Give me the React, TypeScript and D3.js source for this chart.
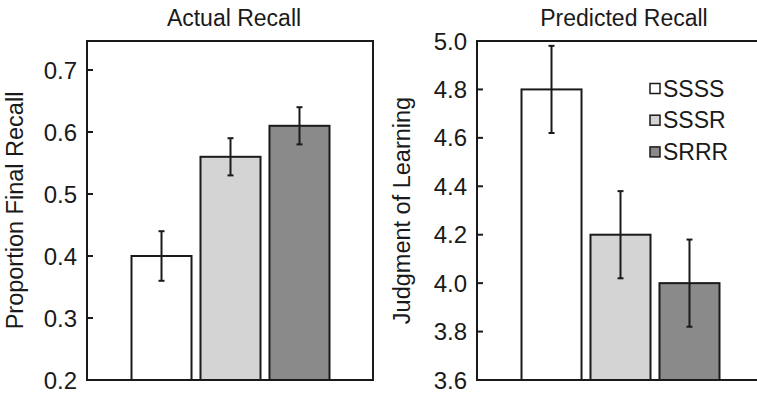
import React from "react";
import * as d3 from "d3";

const categories = ["SSSS", "SSSR", "SRRR"];
const colors = ["#ffffff", "#d4d4d4", "#8a8a8a"];

const actualValues = [0.40, 0.56, 0.61];
const actualErrors = [0.04, 0.03, 0.03];
const actualTicks = [0.2, 0.3, 0.4, 0.5, 0.6, 0.7];

const predictedValues = [4.8, 4.2, 4.0];
const predictedErrors = [0.18, 0.18, 0.18];
const predictedTicks = [3.6, 3.8, 4.0, 4.2, 4.4, 4.6, 4.8, 5.0];

const W = 757;
const H = 394;
const FONT = "'Liberation Sans', Arial, Helvetica, sans-serif";
const INK = "#1a1a1a";

type PanelProps = {
  left: number;
  title: string;
  yLabel: string;
  labelOffset: number;
  values: number[];
  errors: number[];
  ticks: number[];
  domain: [number, number];
  fmt: (v: number) => string;
  rightEdge: boolean;
  legend: boolean;
};

function Panel(p: PanelProps) {
  const top = 41;
  const bottom = 380;
  const width = 286;
  const right = p.left + width;
  const y = d3.scaleLinear().domain(p.domain).range([bottom, top]);
  const x = d3
    .scaleBand<string>()
    .domain(categories)
    .range([p.left + 44.5, p.left + 242.5])
    .paddingInner(0.13);
  const cap = 3;
  return (
    <g>
      <text
        x={p.left + width / 2 + 4}
        y={26}
        textAnchor="middle"
        fontSize={23}
        fontFamily={FONT}
        fill={INK}
      >
        {p.title}
      </text>
      <text
        transform={`translate(${p.left - p.labelOffset},${(top + bottom) / 2}) rotate(-90)`}
        textAnchor="middle"
        fontSize={23.5}
        fontFamily={FONT}
        fill={INK}
      >
        {p.yLabel}
      </text>
      {categories.map((c, i) => (
        <g key={c}>
          <rect
            x={x(c)}
            y={y(p.values[i])}
            width={x.bandwidth()}
            height={bottom - y(p.values[i])}
            fill={colors[i]}
            stroke={INK}
            strokeWidth={2}
          />
          <line
            x1={x(c)! + x.bandwidth() / 2}
            x2={x(c)! + x.bandwidth() / 2}
            y1={y(p.values[i] - p.errors[i])}
            y2={y(p.values[i] + p.errors[i])}
            stroke={INK}
            strokeWidth={2}
          />
          {[-1, 1].map((s) => (
            <line
              key={s}
              x1={x(c)! + x.bandwidth() / 2 - cap}
              x2={x(c)! + x.bandwidth() / 2 + cap}
              y1={y(p.values[i] + s * p.errors[i])}
              y2={y(p.values[i] + s * p.errors[i])}
              stroke={INK}
              strokeWidth={2}
            />
          ))}
        </g>
      ))}
      <path
        d={
          p.rightEdge
            ? `M${p.left},${top}H${right}V${bottom}H${p.left}Z`
            : `M${right},${top}H${p.left}V${bottom}H${right}`
        }
        fill="none"
        stroke={INK}
        strokeWidth={2}
      />
      {p.ticks.map((t) => (
        <g key={t}>
          <line
            x1={p.left}
            x2={p.left + 6}
            y1={y(t)}
            y2={y(t)}
            stroke={INK}
            strokeWidth={2}
          />
          <text
            x={p.left - 10}
            y={y(t)}
            dy="0.36em"
            textAnchor="end"
            fontSize={24}
            fontFamily={FONT}
            fill={INK}
          >
            {p.fmt(t)}
          </text>
        </g>
      ))}
      {p.legend &&
        categories.map((c, i) => {
          const ly = 88.5 + i * 31.7;
          return (
            <g key={c}>
              <rect
                x={650}
                y={ly - 5}
                width={10}
                height={10}
                fill={colors[i]}
                stroke={INK}
                strokeWidth={1.5}
              />
              <text
                x={663}
                y={ly}
                dy="0.36em"
                fontSize={23}
                fontFamily={FONT}
                fill={INK}
              >
                {c}
              </text>
            </g>
          );
        })}
    </g>
  );
}

export default function App() {
  return (
    <svg
      width={W}
      height={H}
      style={{ position: "absolute", left: 0, top: 0, background: "#fff" }}
    >
      <rect width={W} height={H} fill="#fff" />
      <Panel
        left={87}
        title="Actual Recall"
        yLabel="Proportion Final Recall"
        labelOffset={64}
        values={actualValues}
        errors={actualErrors}
        ticks={actualTicks}
        domain={[0.2, 0.2 + (380 - 41) / 620]}
        fmt={d3.format(".1f")}
        rightEdge={true}
        legend={false}
      />
      <Panel
        left={477}
        title="Predicted Recall"
        yLabel="Judgment of Learning"
        labelOffset={67}
        values={predictedValues}
        errors={predictedErrors}
        ticks={predictedTicks}
        domain={[3.6, 5.0]}
        fmt={d3.format(".1f")}
        rightEdge={false}
        legend={true}
      />
    </svg>
  );
}
